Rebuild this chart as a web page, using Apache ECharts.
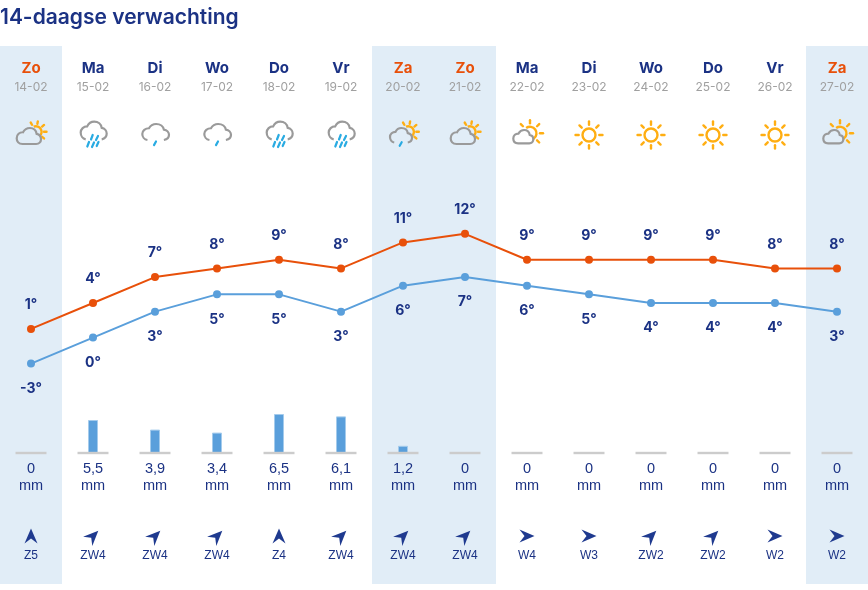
<!DOCTYPE html>
<html><head><meta charset="utf-8">
<style>html,body{margin:0;padding:0;background:#fff}#c{width:868px;height:590px}</style>
<script src="https://cdn.jsdelivr.net/npm/echarts@6/dist/echarts.min.js"></script>
</head><body><div id="c"></div>
<script>
const dates = ['14-02','15-02','16-02','17-02','18-02','19-02','20-02','21-02','22-02','23-02','24-02','25-02','26-02','27-02'];
const days = ['Zo','Ma','Di','Wo','Do','Vr','Za','Zo','Ma','Di','Wo','Do','Vr','Za'];
const icons = ['pc','rain','drip','drip','rain','rain','pcd','pc','sc','sun','sun','sun','sun','sc'];
const high = [1,4,7,8,9,8,11,12,9,9,9,9,8,8];
const low = [-3,0,3,5,5,3,6,7,6,5,4,4,4,3];
const rain = [0,5.5,3.9,3.4,6.5,6.1,1.2,0,0,0,0,0,0,0];
const windDir = ['Z','ZW','ZW','ZW','Z','ZW','ZW','ZW','W','W','ZW','ZW','W','W'];
const windForce = [5,4,4,4,4,4,4,4,4,3,2,2,2,2];

const NAVY='#1b3284', ORANGE='#e8500a', BLUE='#5a9fdb', BAND='#e1edf7', SUN='#ffae12', GREY='#9a9a9a', DROP='#29abe2';
const FONT='Inter, "Noto Sans", sans-serif', BODY='"Liberation Sans", Arial, sans-serif';
const isWeekend = d => d==='Za'||d==='Zo';
const dirAngle = {Z:0, ZW:-45, W:-90};
const CLOSED='M6 15 C2 15 0 12.5 0 9.5 C0 6 3 3.8 6.5 4 C8 1.5 10.5 0 13.5 0 C17.5 0 20 2.5 20.5 5.5 C23.5 6 25 8 25 10.5 C25 13 23 15 20 15 Z';
const OPEN='M5 17 C2 16.5 0 13.5 0 10.5 C0 7 3 4.5 6.5 4.5 C8 1.5 10.5 0 13.5 0 C17.5 0 20.5 2.5 21 6 C24 6.5 26 9 26 11.5 C26 14.5 24 16.5 21 17';

function cloud(path,x0,y0,x1,y1){return {type:'path',shape:{pathData:path,x:x0,y:y0,width:x1-x0,height:y1-y0,layout:'cover'},style:{fill:'none',stroke:GREY,lineWidth:2.2}};}
function seg(x1,y1,x2,y2,c,w){return {type:'line',shape:{x1,y1,x2,y2},style:{stroke:c,lineWidth:w,lineCap:'round'}};}
function sun(cx,cy,r,inner,outer,a0,a1,rayAngles){
  const out=[{type:'arc',shape:{cx,cy,r,startAngle:a0,endAngle:a1,clockwise:true},style:{fill:'none',stroke:SUN,lineWidth:2.4}}];
  rayAngles.forEach(d=>{const a=d*Math.PI/180;out.push(seg(cx+inner*Math.cos(a),cy+inner*Math.sin(a),cx+outer*Math.cos(a),cy+outer*Math.sin(a),SUN,2.4));});
  return out;
}
function iconParts(t){
  const drop=(x,y)=>seg(x+1,y-1.8,x-1,y+1.8,DROP,2.2);
  if(t==='sun') return sun(0,0,6.5,10.3,13.5,0,Math.PI*2,[0,45,90,135,180,225,270,315]);
  if(t==='sc') return sun(3,-1.7,6.5,10,13,-2.2,1.0,[-135,-90,-45,0,45]).concat([cloud(CLOSED,-13.7,-5,6.3,8.3)]);
  if(t==='pc') return sun(5,-3.3,5.5,8,10.5,-2,0.9,[-120,-80,-40,0,40]).concat([cloud(CLOSED,-14.3,-7,10,9)]);
  if(t==='pcd') return sun(5.3,-3.3,5.5,8,10.5,-2,0.9,[-120,-80,-40,0,40]).concat([cloud(OPEN,-13,-7,9,7.5),drop(-2.3,9)]);
  if(t==='drip') return [cloud(OPEN,-12.7,-11,14,5),drop(0,8.3)];
  return [cloud(OPEN,-12.3,-13.3,13.7,4.3),
    seg(-0.3,0,-2,4.5,DROP,2.2),seg(5,1,3,5,DROP,2.2),
    seg(-4,7,-5.7,11.5,DROP,2.2),seg(1,7.5,-1,12,DROP,2.2),seg(5.5,7,3.7,11,DROP,2.2)];
}
const catAxis=(grid,extra)=>Object.assign({type:'category',gridIndex:grid,data:dates,boundaryGap:true,axisLine:{show:false},axisTick:{show:false},axisLabel:{show:false},splitLine:{show:false}},extra||{});
const valAxis=(grid,min,max)=>({type:'value',gridIndex:grid,min,max,show:false,splitLine:{show:false}});
const tempLabel=(pos,dist)=>({show:true,position:pos,distance:dist,color:NAVY,fontFamily:FONT,fontWeight:700,fontSize:14,formatter:p=>p.value+'°'});

const chart=echarts.init(document.getElementById('c'),null,{renderer:'canvas'});
chart.setOption({
  animation:false,
  backgroundColor:'#fff',
  title:{text:'14-daagse verwachting',left:0,top:7,padding:0,textStyle:{color:NAVY,fontFamily:FONT,fontWeight:600,fontSize:21}},
  grid:[
    {left:0,right:0,top:46,height:538},
    {left:0,right:0,top:100,height:70},
    {left:0,right:0,top:164.6,height:259.5},
    {left:0,right:0,top:393,height:60},
    {left:0,right:0,top:526,height:20}
  ],
  xAxis:[
    catAxis(0),
    catAxis(1,{position:'top',axisLabel:{show:true,interval:0,margin:3,
      formatter:(v,i)=>`{${isWeekend(days[i])?'w':'d'}|${days[i]}}\n{t|${v}}`,
      rich:{w:{color:ORANGE,fontFamily:FONT,fontWeight:700,fontSize:15,lineHeight:20},
            d:{color:NAVY,fontFamily:FONT,fontWeight:700,fontSize:15,lineHeight:20},
            t:{color:'#a0a0a0',fontFamily:FONT,fontSize:12,lineHeight:19}}}}),
    catAxis(2),
    catAxis(3,{axisLabel:{show:true,interval:0,margin:7,
      formatter:(v,i)=>`{v|${String(rain[i]).replace('.',',')}}\n{u|mm}`,
      rich:{v:{color:NAVY,fontFamily:BODY,fontSize:14.5,lineHeight:17},u:{color:NAVY,fontFamily:BODY,fontSize:14.5,lineHeight:17}}}}),
    catAxis(4,{axisLabel:{show:true,interval:0,margin:4,color:NAVY,fontFamily:BODY,fontSize:12,lineHeight:12,
      formatter:(v,i)=>windDir[i]+windForce[i]}})
  ],
  yAxis:[valAxis(0,0,1),valAxis(1,-1,1),valAxis(2,-10,20),valAxis(3,0,10),valAxis(4,-1,1)],
  series:[
    {type:'bar',silent:true,xAxisIndex:0,yAxisIndex:0,barWidth:'100%',z:0,itemStyle:{color:BAND},data:days.map(d=>isWeekend(d)?1:null)},
    {type:'custom',silent:true,xAxisIndex:1,yAxisIndex:1,z:3,data:icons.map((t,i)=>[i,0]),
      renderItem:(p,api)=>{const c=api.coord([api.value(0),api.value(1)]);return {type:'group',x:c[0],y:c[1],children:iconParts(icons[p.dataIndex])};}},
    {type:'line',name:'Max',xAxisIndex:2,yAxisIndex:2,z:4,data:high,symbol:'circle',symbolSize:8,showAllSymbol:true,
      lineStyle:{color:ORANGE,width:2},itemStyle:{color:ORANGE},label:tempLabel('top',13)},
    {type:'line',name:'Min',xAxisIndex:2,yAxisIndex:2,z:4,data:low,symbol:'circle',symbolSize:8,showAllSymbol:true,
      lineStyle:{color:BLUE,width:2},itemStyle:{color:BLUE},label:tempLabel('bottom',14)},
    {type:'bar',xAxisIndex:3,yAxisIndex:3,z:3,barWidth:10,data:rain,itemStyle:{color:BLUE,borderColor:'#a4cbec',borderWidth:1}},
    {type:'scatter',xAxisIndex:3,yAxisIndex:3,z:4,data:rain.map(()=>0),symbol:'rect',symbolSize:[31,2.4],itemStyle:{color:'#cccccc',opacity:1}},
    {type:'scatter',xAxisIndex:4,yAxisIndex:4,z:4,data:windDir.map(d=>({value:0,symbolRotate:dirAngle[d]})),
      symbol:'path://M6.5 0 L13 15 L6.5 10 L0 15 Z',symbolSize:[13,15],itemStyle:{color:'#1f3a8f',opacity:1}}
  ]
});
</script></body></html>
